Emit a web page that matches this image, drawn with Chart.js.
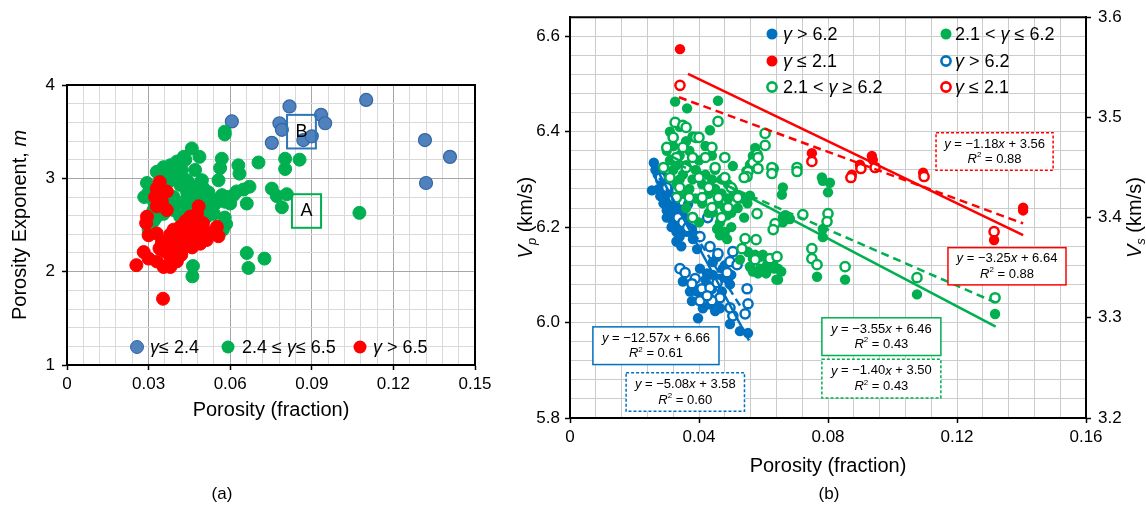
<!DOCTYPE html>
<html><head><meta charset="utf-8">
<script src="https://cdn.jsdelivr.net/npm/chart.js@4.4.0/dist/chart.umd.min.js"></script>
<style>
html,body{margin:0;padding:0;background:#fff;}
body{width:1146px;height:511px;overflow:hidden;position:relative;}
#ca{position:absolute;left:0;top:0;}
#cb{position:absolute;left:500px;top:0;}
</style></head><body>
<canvas id="ca" width="500" height="511" style="width:500px;height:511px"></canvas>
<canvas id="cb" width="646" height="511" style="width:646px;height:511px"></canvas>
<script>
// ---------------- Panel (a) data: [porosity, m] ----------------
const aBlue = [[0.0606,3.61],[0.0818,3.77],[0.0781,3.59],[0.0790,3.52],[0.0753,3.38],[0.0934,3.68],[0.0949,3.59],[0.0869,3.41],[0.0900,3.45],[0.1100,3.84],[0.1316,3.41],[0.1408,3.23],[0.1320,2.95]];
const aGreen = [[0.0580,3.50],[0.0580,3.47],[0.0459,3.32],[0.0487,3.23],[0.0429,3.23],[0.0569,3.21],[0.0563,3.11],[0.0557,2.98],[0.0630,3.14],[0.0634,3.05],[0.0704,3.17],[0.0802,3.21],[0.0855,3.20],[0.0802,3.10],[0.0671,2.91],[0.0649,2.88],[0.0661,2.73],[0.0753,2.89],[0.0771,2.81],[0.0808,2.83],[0.0790,2.69],[0.1075,2.63],[0.0661,2.20],[0.0667,2.04],[0.0726,2.14],[0.0463,2.06],[0.0461,1.95],[0.0585,2.51],[0.0573,2.45],[0.0496,2.98],[0.0612,2.82],[0.0600,2.73],[0.0545,2.73],[0.0514,2.66],[0.0294,2.95],[0.0284,2.80],[0.0330,3.07],[0.0355,3.12],[0.0380,3.14],[0.0404,3.18],[0.0422,3.09],[0.0392,3.04],[0.0367,2.95],[0.0416,2.93],[0.0441,2.86],[0.0465,2.80],[0.0490,2.77],[0.0514,2.79],[0.0539,2.75],[0.0563,2.79],[0.0588,2.80],[0.0624,2.86],[0.0441,2.70],[0.0392,2.66],[0.0355,2.62],[0.0330,2.59],[0.0318,2.66],[0.0416,2.59],[0.0392,2.80],[0.0441,2.98],[0.0306,2.41],[0.0312,2.52],[0.0465,2.55],[0.0490,2.50],[0.0514,2.59],[0.0435,3.20],[0.0471,3.09],[0.0398,3.09],[0.0343,3.02],[0.0330,2.89],[0.0360,3.05],[0.0380,2.98],[0.0420,3.02],[0.0460,2.92],[0.0480,2.85],[0.0440,2.78],[0.0400,2.72],[0.0360,2.70],[0.0500,2.90],[0.0520,2.85],[0.0570,2.82],[0.0580,2.75],[0.0300,2.85],[0.0320,2.75],[0.0300,2.45],[0.0320,2.55],[0.0460,2.62],[0.0500,2.65],[0.0540,2.62],[0.0580,2.58]];
const aRed = [[0.0255,2.07],[0.0353,1.71],[0.0341,2.96],[0.0330,2.89],[0.0324,2.80],[0.0367,2.86],[0.0349,2.75],[0.0330,2.70],[0.0367,2.66],[0.0294,2.59],[0.0291,2.52],[0.0300,2.39],[0.0330,2.41],[0.0349,2.32],[0.0282,2.21],[0.0300,2.14],[0.0330,2.11],[0.0355,2.05],[0.0380,2.05],[0.0404,2.11],[0.0392,2.21],[0.0380,2.34],[0.0392,2.45],[0.0416,2.48],[0.0435,2.54],[0.0453,2.59],[0.0478,2.62],[0.0484,2.70],[0.0465,2.52],[0.0441,2.41],[0.0416,2.34],[0.0422,2.23],[0.0447,2.29],[0.0478,2.38],[0.0490,2.30],[0.0514,2.34],[0.0551,2.48],[0.0557,2.38],[0.0404,2.29],[0.0441,2.36],[0.0380,2.40],[0.0400,2.36],[0.0420,2.45],[0.0440,2.32],[0.0460,2.42],[0.0480,2.46],[0.0500,2.52],[0.0520,2.42],[0.0360,2.22],[0.0380,2.15],[0.0340,2.25],[0.0420,2.18],[0.0460,2.26]];
const aLegendLabels = ['γ≤ 2.4','2.4 ≤ γ≤ 6.5','γ > 6.5'];
const aTicksX = [0,0.03,0.06,0.09,0.12,0.15];
const aTicksY = [1,2,3,4];

// ---------------- Panel (b) data ----------------
// filled markers: [porosity, Vp]
const bVpBlue = [[0.0254,6.277],[0.0260,6.335],[0.0265,6.32],[0.0272,6.31],[0.0280,6.298],[0.0288,6.285],[0.0295,6.27],[0.0300,6.26],[0.0310,6.25],[0.0318,6.238],[0.0325,6.225],[0.0333,6.21],[0.0290,6.25],[0.0300,6.235],[0.0310,6.22],[0.0320,6.205],[0.0330,6.19],[0.0280,6.265],[0.0340,6.18],[0.0345,6.20],[0.0275,6.28],[0.0285,6.31],[0.0295,6.295],[0.0305,6.28],[0.0315,6.265],[0.0325,6.25],[0.0335,6.235],[0.0345,6.22],[0.0355,6.205],[0.0362,6.19],[0.0300,6.22],[0.0315,6.20],[0.0330,6.17],[0.0345,6.16],[0.0397,6.009],[0.0450,6.024],[0.0496,5.997],[0.0527,5.982],[0.0552,5.978],[0.0378,6.045],[0.0350,6.086],[0.0394,6.065],[0.0425,6.08],[0.0443,6.10],[0.0465,6.092],[0.0474,6.113],[0.0490,6.092],[0.0496,6.08],[0.0471,6.065],[0.0434,6.051],[0.0412,6.059],[0.0456,6.045],[0.0412,6.030],[0.0372,6.065],[0.0403,6.113],[0.0425,6.103],[0.0443,6.127],[0.0456,6.138],[0.0394,6.154],[0.0381,6.175],[0.0357,6.204],[0.0378,6.196],[0.0388,6.183],[0.0350,6.225],[0.0341,6.237],[0.0366,6.248],[0.0465,6.030],[0.0434,6.038],[0.0480,6.12],[0.0500,6.10],[0.0420,6.09],[0.0440,6.07]];
const bVpGreen = [[0.0326,6.463],[0.0363,6.449],[0.0459,6.465],[0.0434,6.403],[0.0605,6.397],[0.0574,6.366],[0.0567,6.349],[0.0558,6.331],[0.0547,6.318],[0.0505,6.328],[0.0781,6.304],[0.0784,6.297],[0.0806,6.293],[0.0800,6.273],[0.0660,6.283],[0.0657,6.268],[0.0558,6.266],[0.0505,6.279],[0.0660,6.221],[0.0660,6.210],[0.0682,6.217],[0.0784,6.196],[0.0784,6.179],[0.0527,6.132],[0.0567,6.134],[0.0598,6.142],[0.0630,6.127],[0.0645,6.113],[0.0645,6.090],[0.0567,6.107],[0.0766,6.096],[0.0853,6.090],[0.1076,6.059],[0.1318,6.018],[0.0443,6.231],[0.0465,6.210],[0.0474,6.190],[0.0487,6.175],[0.0465,6.183],[0.0456,6.196],[0.0487,6.225],[0.0667,6.225],[0.0552,6.148],[0.0574,6.142],[0.0589,6.138],[0.0611,6.134],[0.0558,6.117],[0.0589,6.113],[0.0611,6.121],[0.0633,6.113],[0.0655,6.107],[0.0583,6.103],[0.0608,6.103],[0.0640,6.090],[0.030,6.36],[0.031,6.34],[0.032,6.37],[0.033,6.33],[0.034,6.35],[0.035,6.31],[0.036,6.33],[0.037,6.36],[0.038,6.30],[0.039,6.32],[0.040,6.34],[0.041,6.29],[0.042,6.31],[0.043,6.27],[0.044,6.30],[0.045,6.28],[0.046,6.25],[0.047,6.27],[0.048,6.24],[0.049,6.26],[0.050,6.23],[0.033,6.29],[0.035,6.27],[0.037,6.28],[0.039,6.26],[0.041,6.25],[0.043,6.23],[0.036,6.24],[0.038,6.22],[0.040,6.21],[0.034,6.30],[0.032,6.32],[0.045,6.32],[0.047,6.30],[0.049,6.29],[0.051,6.27],[0.053,6.26],[0.044,6.35],[0.042,6.37],[0.038,6.39],[0.036,6.38],[0.031,6.40],[0.034,6.41],[0.052,6.24],[0.054,6.22],[0.055,6.25],[0.046,6.20],[0.048,6.19],[0.050,6.20]];
const bVpRed = [[0.0341,6.573],[0.0750,6.355],[0.0874,6.310],[0.0899,6.331],[0.0936,6.349],[0.0939,6.341],[0.1095,6.314],[0.1405,6.241],[0.1405,6.235],[0.1315,6.173]];
// open markers: [porosity, Vs]
const bVsBlue = [[0.0403,3.381],[0.0434,3.371],[0.0459,3.364],[0.0341,3.349],[0.0357,3.345],[0.0388,3.339],[0.0378,3.334],[0.0409,3.329],[0.0434,3.330],[0.0456,3.335],[0.0487,3.345],[0.0496,3.356],[0.0505,3.366],[0.0549,3.329],[0.0552,3.314],[0.0543,3.304],[0.0505,3.302],[0.0496,3.310],[0.0403,3.317],[0.0465,3.320],[0.0440,3.317],[0.0425,3.322],[0.0518,3.353],[0.0320,3.420],[0.0335,3.400],[0.0350,3.395],[0.0365,3.390],[0.0380,3.400],[0.0427,3.400],[0.0280,3.440],[0.0300,3.430]];
const bVsGreen = [[0.0326,3.495],[0.0350,3.492],[0.0459,3.496],[0.0605,3.484],[0.0605,3.472],[0.0580,3.463],[0.0567,3.455],[0.0552,3.446],[0.0549,3.441],[0.0630,3.449],[0.0583,3.460],[0.0583,3.449],[0.0626,3.450],[0.0626,3.444],[0.0704,3.450],[0.0704,3.446],[0.0580,3.404],[0.0636,3.394],[0.0630,3.388],[0.0722,3.403],[0.0800,3.404],[0.0797,3.396],[0.0543,3.379],[0.0533,3.369],[0.0574,3.358],[0.0620,3.359],[0.0642,3.361],[0.0750,3.369],[0.0750,3.359],[0.0766,3.353],[0.0853,3.351],[0.1076,3.340],[0.1318,3.320],[0.0577,3.378],[0.029,3.45],[0.030,3.47],[0.031,3.44],[0.032,3.48],[0.033,3.46],[0.034,3.43],[0.035,3.47],[0.036,3.45],[0.037,3.42],[0.038,3.46],[0.039,3.48],[0.040,3.44],[0.041,3.42],[0.042,3.46],[0.043,3.43],[0.044,3.41],[0.045,3.45],[0.046,3.42],[0.047,3.40],[0.048,3.44],[0.049,3.41],[0.050,3.43],[0.052,3.42],[0.054,3.44],[0.036,3.49],[0.040,3.48],[0.044,3.47],[0.048,3.46],[0.033,3.42],[0.038,3.40]];
const bVsRed = [[0.0341,3.532],[0.0750,3.456],[0.0871,3.440],[0.0902,3.449],[0.0946,3.450],[0.1098,3.441],[0.1315,3.386]];
// regression fits (Vp solid, Vs dashed): blue, green, red
const fitVpSlope = [-12.57,-3.55,-3.25];
const fitVpIntercept = [6.66,6.46,6.64];
const fitVpR2 = ['0.61','0.43','0.88'];
const fitVsSlope = [-5.08,-1.40,-1.18];
const fitVsIntercept = [3.58,3.50,3.56];
const fitVsR2 = ['0.60','0.43','0.88'];
const fitVpRange = [[0.0255,0.0555],[0.030,0.132],[0.0366,0.1405]];
const fitVsRange = [[0.0255,0.0535],[0.030,0.132],[0.0338,0.1405]];
const bLegendLabels = ['γ > 6.2','2.1 < γ ≤ 6.2','γ ≤ 2.1','γ > 6.2','2.1 < γ ≥ 6.2','γ ≤ 2.1'];
const bTicksX = [0,0.04,0.08,0.12,0.16];
const bTicksVp = [5.8,6.0,6.2,6.4,6.6];
const bTicksVs = [3.2,3.3,3.4,3.5,3.6];

// ---------------- styling ----------------
const FAM = '"Liberation Sans", Arial, Helvetica, sans-serif';
Chart.defaults.font.family = FAM;
Chart.defaults.color = '#000';
const C_BLUE_A = '#4f81bd', C_BLUE_A_B = '#3465a4';
const C_BLUE = '#0070c0', C_GREEN = '#00b050', C_RED = '#ff0000';
const pts = a => a.map(p => ({x:p[0], y:p[1]}));
const isMult = (v, s) => Math.abs(v/s - Math.round(v/s)) < 1e-6;
const fmt = v => String(parseFloat(v.toFixed(2)));

function segs(str){ // italicise γ
  const out=[]; let buf='';
  for(const ch of str){ if(ch==='γ'){ if(buf) out.push({t:buf}); out.push({t:'γ',it:true}); buf=''; } else buf+=ch; }
  if(buf) out.push({t:buf}); return out;
}
function fontOf(s,size){ const sz=(s.sub||s.sup)?Math.round(size*0.65):size; return (s.it?'italic ':'')+sz+'px '+FAM; }
function richWidth(ctx,sg,size){ let w=0; for(const s of sg){ ctx.font=fontOf(s,size); w+=ctx.measureText(s.t).width; } return w; }
function drawRich(ctx,sg,x,y,size,align,color){
  const w=richWidth(ctx,sg,size); let cx = align==='center'? x-w/2 : x;
  ctx.textAlign='left'; ctx.textBaseline='middle'; ctx.fillStyle=color||'#000';
  for(const s of sg){ ctx.font=fontOf(s,size); const dy = s.sub? size*0.3 : (s.sup? -size*0.33 : 0);
    ctx.fillText(s.t,cx,y+dy); cx+=ctx.measureText(s.t).width; }
}
function drawRot(ctx,sg,x,y,size){ ctx.save(); ctx.translate(x,y); ctx.rotate(-Math.PI/2); drawRich(ctx,sg,0,0,size,'center'); ctx.restore(); }
function marker(ctx,x,y,r,color,filled,border){
  ctx.beginPath(); ctx.arc(x,y,r,0,Math.PI*2);
  if(filled){ ctx.fillStyle=color; ctx.fill(); if(border){ctx.strokeStyle=border; ctx.lineWidth=1; ctx.stroke();} }
  else { ctx.fillStyle='#fff'; ctx.fill(); ctx.strokeStyle=color; ctx.lineWidth=2.6; ctx.stroke(); }
}

// ---------------- Panel (a) ----------------
const aBoxes = [ {label:'B', x0:0.0809, x1:0.0915, y0:3.68, y1:3.32, color:'#2e75b6'},
                 {label:'A', x0:0.0827, x1:0.0934, y0:2.83, y1:2.47, color:C_GREEN} ];
const pluginA = {
  id:'panelA',
  afterDatasetsDraw(chart){
    const ctx=chart.ctx, ca=chart.chartArea, xs=chart.scales.x, ys=chart.scales.y;
    ctx.save();
    for(const b of aBoxes){
      const x0=xs.getPixelForValue(b.x0), x1=xs.getPixelForValue(b.x1), y0=ys.getPixelForValue(b.y0), y1=ys.getPixelForValue(b.y1);
      ctx.strokeStyle=b.color; ctx.lineWidth=2; ctx.strokeRect(x0,y0,x1-x0,y1-y0);
      drawRich(ctx,[{t:b.label}],(x0+x1)/2,(y0+y1)/2,18,'center','#000');
    }
    // legend
    const lx=[137,228,360], tx=[150,242,373], cols=[C_BLUE_A,C_GREEN,C_RED];
    for(let i=0;i<3;i++){ marker(ctx,lx[i],347,6.5,cols[i],true,i===0?C_BLUE_A_B:null); drawRich(ctx,segs(aLegendLabels[i]),tx[i],348,18,'left'); }
    // frame
    ctx.strokeStyle='#000'; ctx.lineWidth=2;
    ctx.beginPath(); ctx.moveTo(ca.left,ca.top); ctx.lineTo(ca.right,ca.top); ctx.lineTo(ca.right,ca.bottom); ctx.stroke();
    // titles
    drawRich(ctx,[{t:'Porosity (fraction)'}],(ca.left+ca.right)/2,410,20,'center');
    drawRot(ctx,[{t:'Porosity Exponent, '},{t:'m',it:true}],20,(ca.top+ca.bottom)/2,20);
    drawRich(ctx,[{t:'(a)'}],222,494,17,'center');
    ctx.restore();
  }
};
new Chart(document.getElementById('ca'),{
  type:'scatter',
  data:{datasets:[
    {data:pts(aRed), backgroundColor:C_RED, borderColor:C_RED, borderWidth:1, pointRadius:6.5, order:0},
    {data:pts(aGreen), backgroundColor:C_GREEN, borderColor:C_GREEN, borderWidth:1, pointRadius:6.5, order:1},
    {data:pts(aBlue), backgroundColor:C_BLUE_A, borderColor:C_BLUE_A_B, borderWidth:1.2, pointRadius:6.5, order:2}
  ]},
  options:{
    responsive:false, animation:false, events:[],
    layout:{padding:{top:85,right:25,left:0,bottom:0}},
    plugins:{legend:{display:false},tooltip:{enabled:false}},
    scales:{
      x:{type:'linear',min:0,max:0.15, afterFit:s=>{s.height=146;},
        ticks:{stepSize:0.006,autoSkip:false,maxRotation:0,minRotation:0,padding:4,font:{size:17},color:'#000',
          callback:v=> aTicksX.some(t=>Math.abs(t-v)<1e-6)? fmt(v):''},
        grid:{color:c=> isMult(c.tick.value,0.03)?'#a6a6a6':'#d9d9d9', lineWidth:1, tickLength:5,
          tickColor:c=> isMult(c.tick.value,0.03)?'#000':'rgba(0,0,0,0)', tickWidth:1.5},
        border:{color:'#000',width:2}},
      y:{type:'linear',min:1,max:4, afterFit:s=>{s.width=67;},
        ticks:{stepSize:0.2,autoSkip:false,padding:7,font:{size:17},color:'#000',
          callback:v=> aTicksY.some(t=>Math.abs(t-v)<1e-6)? String(Math.round(v)):''},
        grid:{color:c=> isMult(c.tick.value,1)?'#a6a6a6':'#d9d9d9', lineWidth:1, tickLength:5,
          tickColor:c=> isMult(c.tick.value,1)?'#000':'rgba(0,0,0,0)', tickWidth:1.5},
        border:{color:'#000',width:2}}
    }
  },
  plugins:[pluginA]
});

// ---------------- Panel (b) ----------------
const bColors=[C_BLUE,C_GREEN,C_RED];
const eqBoxes = [
  {kind:'vp', i:0, x0:0.0071, x1:0.0462, y0:5.991, y1:5.912},
  {kind:'vs', i:0, x0:0.0174, x1:0.0541, y0:5.895, y1:5.814},
  {kind:'vp', i:1, x0:0.0781, x1:0.1150, y0:6.010, y1:5.931},
  {kind:'vs', i:1, x0:0.0781, x1:0.1150, y0:5.923, y1:5.842},
  {kind:'vp', i:2, x0:0.1172, x1:0.1538, y0:6.157, y1:6.079},
  {kind:'vs', i:2, x0:0.1135, x1:0.1498, y0:6.398, y1:6.319}
];
function eqSegs(slope,intercept){
  return [{t:'y',it:true},{t:' = −'+Math.abs(slope).toFixed(2)},{t:'x',it:true},{t:' + '+intercept.toFixed(2)}];
}
const pluginB = {
  id:'panelB',
  afterDatasetsDraw(chart){
    const ctx=chart.ctx, ca=chart.chartArea, xs=chart.scales.x, ys=chart.scales.y;
    ctx.save();
    // equation boxes
    for(const b of eqBoxes){
      const x0=xs.getPixelForValue(b.x0), x1=xs.getPixelForValue(b.x1), y0=ys.getPixelForValue(b.y0), y1=ys.getPixelForValue(b.y1);
      ctx.fillStyle='#fff'; ctx.fillRect(x0,y0,x1-x0,y1-y0);
      ctx.strokeStyle=bColors[b.i]; ctx.lineWidth=1.5; ctx.setLineDash(b.kind==='vs'?[3,2]:[]);
      ctx.strokeRect(x0,y0,x1-x0,y1-y0); ctx.setLineDash([]);
      const s = b.kind==='vp'? fitVpSlope[b.i]:fitVsSlope[b.i];
      const c = b.kind==='vp'? fitVpIntercept[b.i]:fitVsIntercept[b.i];
      const r = b.kind==='vp'? fitVpR2[b.i]:fitVsR2[b.i];
      const h=y1-y0, cx=(x0+x1)/2;
      drawRich(ctx,eqSegs(s,c),cx,y0+h*0.3,13,'center');
      drawRich(ctx,[{t:'R',it:true},{t:'2',sup:true},{t:' = '+r}],cx,y0+h*0.71,13,'center');
    }
    // legend
    const mx=[272,446], tx=[283,455], ry=[34,61,87];
    const items=[[0,0,C_BLUE,true],[1,0,C_GREEN,true],[0,1,C_RED,true],[1,1,C_BLUE,false],[0,2,C_GREEN,false],[1,2,C_RED,false]];
    items.forEach((it,k)=>{ marker(ctx,mx[it[0]],ry[it[1]],it[3]?5.5:4.6,it[2],it[3]); drawRich(ctx,segs(bLegendLabels[k]),tx[it[0]],ry[it[1]]+1,18,'left'); });
    // frame top
    ctx.strokeStyle='#000'; ctx.lineWidth=2;
    ctx.beginPath(); ctx.moveTo(ca.left,ca.top); ctx.lineTo(ca.right,ca.top); ctx.stroke();
    // titles
    const mid=(ca.top+ca.bottom)/2;
    drawRich(ctx,[{t:'Porosity (fraction)'}],(ca.left+ca.right)/2,466,20,'center');
    drawRot(ctx,[{t:'V',it:true},{t:'p',it:true,sub:true},{t:' (km/s)'}],26,mid,20);
    drawRot(ctx,[{t:'V',it:true},{t:'s',it:true,sub:true},{t:' (km/s)'}],635,mid,20);
    drawRich(ctx,[{t:'(b)'}],329,494,17,'center');
    ctx.restore();
  }
};
function fitLine(slope,intercept,range,color,dashed,axis){
  return {type:'line', data:range.map(x=>({x:x,y:slope*x+intercept})), borderColor:color, borderWidth:2.5,
    borderDash:dashed?[8,5]:[], pointRadius:0, fill:false, showLine:true, yAxisID:axis, order:0};
}
const bDatasets = [];
for(let i=0;i<3;i++){
  bDatasets.push(fitLine(fitVpSlope[i],fitVpIntercept[i],fitVpRange[i],bColors[i],false,'y'));
  bDatasets.push(fitLine(fitVsSlope[i],fitVsIntercept[i],fitVsRange[i],bColors[i],true,'y2'));
}
const openDs = (d,col,ord)=>({data:pts(d), yAxisID:'y2', backgroundColor:'#fff', borderColor:col, borderWidth:2.5, pointRadius:4.6, order:ord});
const fillDs = (d,col,ord)=>({data:pts(d), yAxisID:'y', backgroundColor:col, borderColor:col, borderWidth:0, pointRadius:5.2, order:ord});
bDatasets.push(openDs(bVsRed,C_RED,1), fillDs(bVpRed,C_RED,2), openDs(bVsGreen,C_GREEN,3), fillDs(bVpGreen,C_GREEN,4), openDs(bVsBlue,C_BLUE,5), fillDs(bVpBlue,C_BLUE,6));

new Chart(document.getElementById('cb'),{
  type:'scatter',
  data:{datasets:bDatasets},
  options:{
    responsive:false, animation:false, events:[],
    layout:{padding:{top:14,right:0,left:0,bottom:0}},
    plugins:{legend:{display:false},tooltip:{enabled:false}},
    scales:{
      x:{type:'linear',min:0,max:0.16, afterFit:s=>{s.height=93;},
        ticks:{stepSize:0.008,autoSkip:false,maxRotation:0,minRotation:0,padding:4,font:{size:17},color:'#000',
          callback:v=> bTicksX.some(t=>Math.abs(t-v)<1e-6)? fmt(v):''},
        grid:{color:'#cccccc', lineWidth:1, tickLength:5,
          tickColor:c=> isMult(c.tick.value,0.04)?'#000':'rgba(0,0,0,0)', tickWidth:1.5},
        border:{color:'#000',width:2}},
      y:{type:'linear',position:'left',min:5.8,max:6.64, afterFit:s=>{s.width=70;},
        ticks:{stepSize:0.04,autoSkip:false,padding:5,font:{size:17},color:'#000',
          callback:v=> bTicksVp.some(t=>Math.abs(t-v)<1e-6)? v.toFixed(1):''},
        grid:{color:'#cccccc', lineWidth:1, tickLength:5,
          tickColor:c=> isMult(c.tick.value,0.2)?'#000':'rgba(0,0,0,0)', tickWidth:1.5},
        border:{color:'#000',width:2}},
      y2:{type:'linear',position:'right',min:3.2,max:3.6, afterFit:s=>{s.width=60;},
        ticks:{stepSize:0.1,autoSkip:false,padding:7,font:{size:17},color:'#000',
          callback:v=> bTicksVs.some(t=>Math.abs(t-v)<1e-6)? v.toFixed(1):''},
        grid:{drawOnChartArea:false, tickLength:5, tickColor:'#000', tickWidth:1.5},
        border:{color:'#000',width:2}}
    }
  },
  plugins:[pluginB]
});
</script>
</body></html>
